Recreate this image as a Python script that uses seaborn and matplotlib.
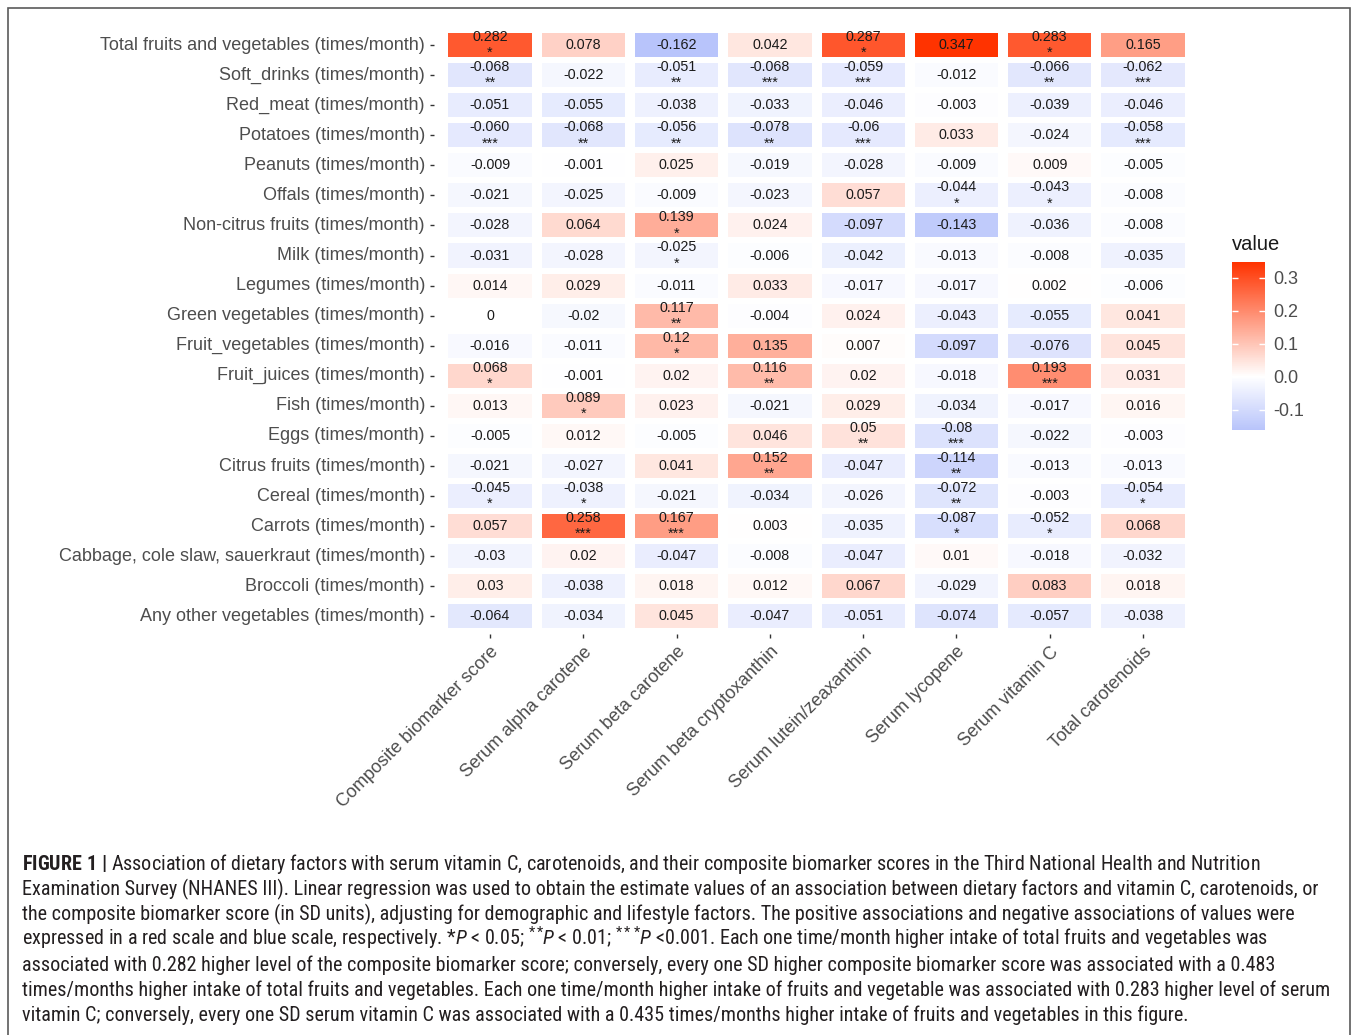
import numpy as np
import pandas as pd
import matplotlib
matplotlib.use("Agg")
import matplotlib.pyplot as plt
from matplotlib.colors import LinearSegmentedColormap
from matplotlib.patches import Rectangle
from matplotlib import font_manager
import seaborn as sns

foods = ["Total fruits and vegetables (times/month)", "Soft_drinks (times/month)",
         "Red_meat (times/month)", "Potatoes (times/month)", "Peanuts (times/month)",
         "Offals (times/month)", "Non-citrus fruits (times/month)", "Milk (times/month)",
         "Legumes (times/month)", "Green vegetables (times/month)",
         "Fruit_vegetables (times/month)", "Fruit_juices (times/month)",
         "Fish (times/month)", "Eggs (times/month)", "Citrus fruits (times/month)",
         "Cereal (times/month)", "Carrots (times/month)",
         "Cabbage, cole slaw, sauerkraut (times/month)", "Broccoli (times/month)",
         "Any other vegetables (times/month)"]

markers = ["Composite biomarker score", "Serum alpha carotene", "Serum beta carotene",
           "Serum beta cryptoxanthin", "Serum lutein/zeaxanthin", "Serum lycopene",
           "Serum vitamin C", "Total carotenoids"]

# estimates as printed in the cells
composite = ["0.282", "-0.068", "-0.051", "-0.060", "-0.009", "-0.021", "-0.028", "-0.031",
             "0.014", "0", "-0.016", "0.068", "0.013", "-0.005", "-0.021", "-0.045",
             "0.057", "-0.03", "0.03", "-0.064"]
alpha = ["0.078", "-0.022", "-0.055", "-0.068", "-0.001", "-0.025", "0.064", "-0.028",
         "0.029", "-0.02", "-0.011", "-0.001", "0.089", "0.012", "-0.027", "-0.038",
         "0.258", "0.02", "-0.038", "-0.034"]
beta = ["-0.162", "-0.051", "-0.038", "-0.056", "0.025", "-0.009", "0.139", "-0.025",
        "-0.011", "0.117", "0.12", "0.02", "0.023", "-0.005", "0.041", "-0.021",
        "0.167", "-0.047", "0.018", "0.045"]
crypto = ["0.042", "-0.068", "-0.033", "-0.078", "-0.019", "-0.023", "0.024", "-0.006",
          "0.033", "-0.004", "0.135", "0.116", "-0.021", "0.046", "0.152", "-0.034",
          "0.003", "-0.008", "0.012", "-0.047"]
lutein = ["0.287", "-0.059", "-0.046", "-0.06", "-0.028", "0.057", "-0.097", "-0.042",
          "-0.017", "0.024", "0.007", "0.02", "0.029", "0.05", "-0.047", "-0.026",
          "-0.035", "-0.047", "0.067", "-0.051"]
lycopene = ["0.347", "-0.012", "-0.003", "0.033", "-0.009", "-0.044", "-0.143", "-0.013",
            "-0.017", "-0.043", "-0.097", "-0.018", "-0.034", "-0.08", "-0.114", "-0.072",
            "-0.087", "0.01", "-0.029", "-0.074"]
vitc = ["0.283", "-0.066", "-0.039", "-0.024", "0.009", "-0.043", "-0.036", "-0.008",
        "0.002", "-0.055", "-0.076", "0.193", "-0.017", "-0.022", "-0.013", "-0.003",
        "-0.052", "-0.018", "0.083", "-0.057"]
total_car = ["0.165", "-0.062", "-0.046", "-0.058", "-0.005", "-0.008", "-0.008", "-0.035",
             "-0.006", "0.041", "0.045", "0.031", "0.016", "-0.003", "-0.013", "-0.054",
             "0.068", "-0.032", "0.018", "-0.038"]

# significance stars
composite_sig = ["*", "**", "", "***", "", "", "", "", "", "", "", "*", "", "", "", "*", "", "", "", ""]
alpha_sig = ["", "", "", "**", "", "", "", "", "", "", "", "", "*", "", "", "*", "***", "", "", ""]
beta_sig = ["", "**", "", "**", "", "", "*", "*", "", "**", "*", "", "", "", "", "", "***", "", "", ""]
crypto_sig = ["", "***", "", "**", "", "", "", "", "", "", "", "**", "", "", "**", "", "", "", "", ""]
lutein_sig = ["*", "***", "", "***", "", "", "", "", "", "", "", "", "", "**", "", "", "", "", "", ""]
lycopene_sig = ["", "", "", "", "", "*", "", "", "", "", "", "", "", "***", "**", "**", "*", "", "", ""]
vitc_sig = ["*", "**", "", "", "", "*", "", "", "", "", "", "***", "", "", "", "", "*", "", "", ""]
total_car_sig = ["", "***", "", "***", "", "", "", "", "", "", "", "", "", "", "", "*", "", "", "", ""]

est = pd.DataFrame(dict(zip(markers, [composite, alpha, beta, crypto, lutein, lycopene, vitc, total_car])),
                   index=foods)
sig = pd.DataFrame(dict(zip(markers, [composite_sig, alpha_sig, beta_sig, crypto_sig, lutein_sig,
                                      lycopene_sig, vitc_sig, total_car_sig])), index=foods)
values = est.astype(float)
labels = est.copy()
for m in markers:
    labels[m] = [e + ("\n" + s if s else "") for e, s in zip(est[m], sig[m])]

plt.rcParams['font.family'] = ['Liberation Sans', 'DejaVu Sans']
installed = {f.name for f in font_manager.fontManager.ttflist}
narrow = next((f for f in ['Liberation Sans Narrow', 'Roboto Condensed', 'Roboto', 'Liberation Sans']
               if f in installed), 'DejaVu Sans')
plt.rcParams['mathtext.fontset'] = 'custom'
plt.rcParams['mathtext.rm'] = narrow
plt.rcParams['mathtext.it'] = narrow + ':italic'
plt.rcParams['mathtext.bf'] = narrow + ':bold'

vmin = values.min().min()
vmax = values.max().max()
mid = -vmin / (vmax - vmin)
cmap = LinearSegmentedColormap.from_list('gg2', [(0, '#b8c4fb'), (mid, '#ffffff'), (1, '#ff3300')])

W, H = 1357, 1035
fig = plt.figure(figsize=(W / 100, H / 100), dpi=100)
ax = fig.add_axes([434 / W, 1 - 634.4 / H, (1199 - 434) / W, (634.4 - 27) / H])
cax = fig.add_axes([1232 / W, 1 - 430 / H, 33 / W, 168 / H])

sns.heatmap(values, ax=ax, cbar_ax=cax, cmap=cmap, vmin=vmin, vmax=vmax,
            annot=labels.values, fmt="", linewidths=2.9, linecolor="white",
            annot_kws=dict(size=10.3, color="#1a1a1a", linespacing=1.2),
            cbar_kws=dict(ticks=[-0.1, 0, 0.1, 0.2, 0.3], format="%.1f"))

# wider white gaps between columns
for x in range(len(markers) + 1):
    ax.axvline(x, color="white", lw=7.2, zorder=2)

ax.set_xlim(-0.1, len(markers) + 0.1)
ax.set_ylim(len(foods) + 0.1, -0.1)
ax.set_xlabel("")
ax.set_ylabel("")
ax.set_xticklabels(markers, rotation=45, ha="right", rotation_mode="anchor",
                   fontsize=13, color="#4d4d4d")
ax.set_yticklabels(foods, rotation=0, fontsize=13, color="#4d4d4d")
ax.tick_params(axis="both", length=3, width=1, color="#333333", pad=3.5)

cbar = ax.collections[0].colorbar
cbar.outline.set_visible(False)
cax.minorticks_off()
cax.tick_params(which="both", direction="in", length=4.5, width=1, color="white",
                left=True, right=True, labelsize=13, labelcolor="#4d4d4d", pad=6)
fig.text(1232 / W, 1 - 244 / H, "value", fontsize=14.5, va="center", ha="left", color="#1a1a1a")

caption = [
    r"$\mathbf{FIGURE\ 1\ |}$ Association of dietary factors with serum vitamin C, carotenoids, and their composite biomarker scores in the Third National Health and Nutrition",
    "Examination Survey (NHANES III). Linear regression was used to obtain the estimate values of an association between dietary factors and vitamin C, carotenoids, or",
    "the composite biomarker score (in SD units), adjusting for demographic and lifestyle factors. The positive associations and negative associations of values were",
    r"expressed in a red scale and blue scale, respectively. *$\mathit{P}$ < 0.05; $^{**}\!\mathit{P}$ < 0.01; $^{***}\!\mathit{P}$ <0.001. Each one time/month higher intake of total fruits and vegetables was",
    "associated with 0.282 higher level of the composite biomarker score; conversely, every one SD higher composite biomarker score was associated with a 0.483",
    "times/months higher intake of total fruits and vegetables. Each one time/month higher intake of fruits and vegetable was associated with 0.283 higher level of serum",
    "vitamin C; conversely, every one SD serum vitamin C was associated with a 0.435 times/months higher intake of fruits and vegetables in this figure.",
]
cap_y = [864, 889, 914, 940, 965, 990, 1015]
cap_size = 13
cap_texts = [fig.text(22 / W, 1 - (y + 6) / H, s, fontsize=cap_size, family=narrow, color="#231f20",
                      va="baseline", ha="left") for s, y in zip(caption, cap_y)]
# fit the widest caption line to the width used in the original
for _ in range(3):
    fig.canvas.draw()
    r = fig.canvas.get_renderer()
    widest = max(t.get_window_extent(r).width for t in cap_texts)
    cap_size *= 1306 / widest
    for t in cap_texts:
        t.set_fontsize(cap_size)

fig.add_artist(Rectangle((8 / W, -0.05), (1350 - 8) / W, 1.05 - 8 / H, transform=fig.transFigure,
                         fill=False, edgecolor="#5a5a5a", lw=1.2))

fig.savefig("out.png", dpi=100)
